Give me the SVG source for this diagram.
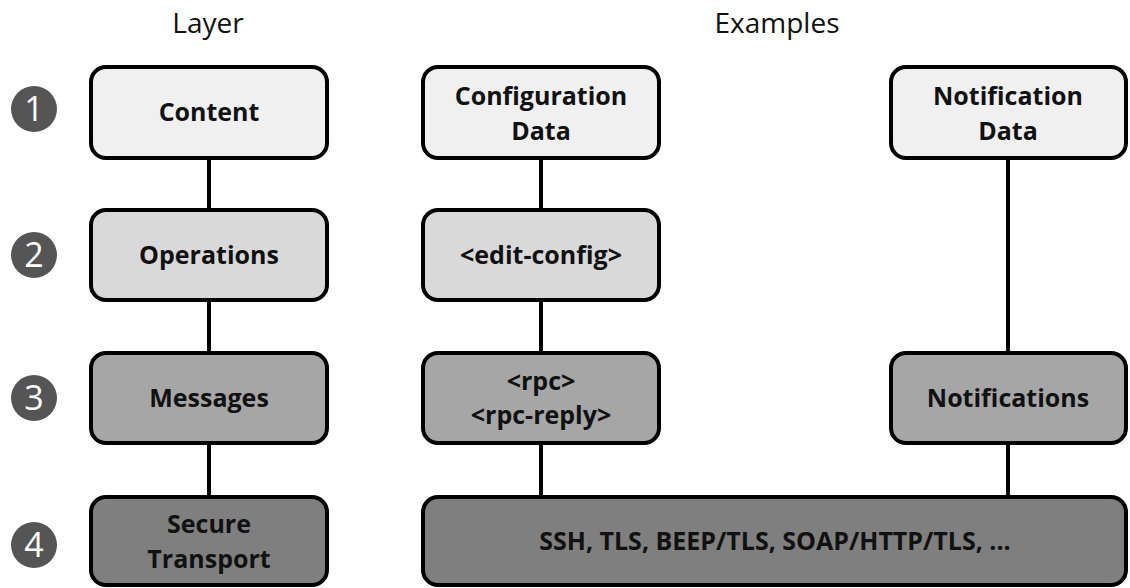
<svg xmlns="http://www.w3.org/2000/svg" width="1130" height="588" viewBox="0 0 1130 588">
<style>
.box{stroke:#000;stroke-width:4}
.l1{fill:#f0f0f0}.l2{fill:#d9d9d9}.l3{fill:#a6a6a6}.l4{fill:#7f7f7f}
.t{font-family:"Open Sans","Noto Sans",sans-serif;font-weight:bold;font-size:25px;fill:#111;text-anchor:middle}
.h{font-family:"Open Sans","Noto Sans",sans-serif;font-size:28px;fill:#111;text-anchor:middle}
.n{fill:#555}
.nt{font-family:"Open Sans","Noto Sans",sans-serif;font-size:34px;fill:#fff;text-anchor:middle}
.c{stroke:#000;stroke-width:4;fill:none}
</style>
<g id="headers">
<text class="h" x="208" y="33">Layer</text>
<text class="h" x="777" y="33">Examples</text>
</g>
<g id="connectors">
<line class="c" x1="209" y1="158" x2="209" y2="210"/>
<line class="c" x1="209" y1="300" x2="209" y2="353"/>
<line class="c" x1="209" y1="443" x2="209" y2="497"/>
<line class="c" x1="541" y1="158" x2="541" y2="210"/>
<line class="c" x1="541" y1="300" x2="541" y2="353"/>
<line class="c" x1="541" y1="443" x2="541" y2="497"/>
<line class="c" x1="1008" y1="158" x2="1008" y2="353"/>
<line class="c" x1="1008" y1="443" x2="1008" y2="497"/>
</g>
<g id="num1"><circle class="n" cx="34" cy="109" r="23"/><text class="nt" x="34" y="121">1</text></g>
<g id="num2"><circle class="n" cx="34" cy="255" r="23"/><text class="nt" x="34" y="267">2</text></g>
<g id="num3"><circle class="n" cx="34" cy="398" r="23"/><text class="nt" x="34" y="410">3</text></g>
<g id="num4"><circle class="n" cx="34" cy="545" r="23"/><text class="nt" x="34" y="557">4</text></g>
<g id="content"><rect class="box l1" x="91" y="67" width="236" height="91" rx="15"/><text class="t" x="209" y="121">Content</text></g>
<g id="operations"><rect class="box l2" x="91" y="210" width="236" height="90" rx="15"/><text class="t" x="209" y="264">Operations</text></g>
<g id="messages"><rect class="box l3" x="91" y="353" width="236" height="90" rx="15"/><text class="t" x="209" y="407">Messages</text></g>
<g id="transport"><rect class="box l4" x="91" y="497" width="236" height="88" rx="15"/><text class="t" x="209" y="533">Secure</text><text class="t" x="209" y="568">Transport</text></g>
<g id="configdata"><rect class="box l1" x="423" y="67" width="236" height="91" rx="15"/><text class="t" x="541" y="105">Configuration</text><text class="t" x="541" y="140">Data</text></g>
<g id="editconfig"><rect class="box l2" x="423" y="210" width="236" height="90" rx="15"/><text class="t" x="541" y="264">&lt;edit-config&gt;</text></g>
<g id="rpc"><rect class="box l3" x="423" y="353" width="236" height="90" rx="15"/><text class="t" x="541" y="390">&lt;rpc&gt;</text><text class="t" x="541" y="424">&lt;rpc-reply&gt;</text></g>
<g id="notifdata"><rect class="box l1" x="891" y="67" width="235" height="91" rx="15"/><text class="t" x="1008" y="105">Notification</text><text class="t" x="1008" y="140">Data</text></g>
<g id="notifications"><rect class="box l3" x="891" y="353" width="235" height="90" rx="15"/><text class="t" x="1008" y="407">Notifications</text></g>
<g id="transports"><rect class="box l4" x="423" y="497" width="703" height="88" rx="15"/><text class="t" x="775" y="550">SSH, TLS, BEEP/TLS, SOAP/HTTP/TLS, ...</text></g>
</svg>
